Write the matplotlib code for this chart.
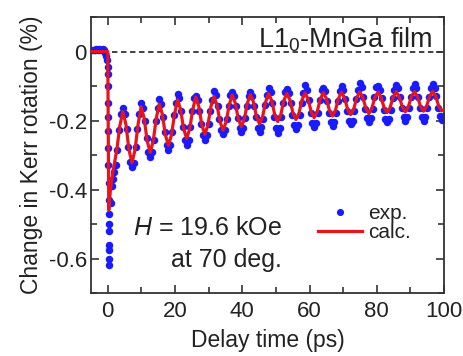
import matplotlib.pyplot as plt
import numpy as np
from matplotlib.ticker import MultipleLocator

plt.rcParams['font.family'] = ['Liberation Sans', 'DejaVu Sans']
plt.rcParams['mathtext.fontset'] = 'custom'
plt.rcParams['mathtext.rm'] = 'Liberation Sans'
plt.rcParams['mathtext.it'] = 'Liberation Sans:italic'

# experimental points before and around time zero
exp_t_start = [-4.6, -4.2, -3.8, -3.4, -3.0, -2.6, -2.2, -1.8, -1.4, -1.0, -0.7, -0.4, -0.2,
               0.00, 0.03, 0.06, 0.09, 0.12, 0.15, 0.18, 0.21, 0.24, 0.27, 0.30, 0.33,
               0.36, 0.39, 0.42, 0.45, 0.48, 0.9, 1.3, 1.7, 2.0]
exp_v_start = [0.005, 0.006, 0.004, 0.007, 0.005, 0.008, 0.006, 0.005, 0.007, 0.004, -0.005, -0.012, -0.025,
               -0.045, -0.065, -0.10, -0.15, -0.19, -0.23, -0.28, -0.33, -0.38, -0.43, -0.47, -0.50,
               -0.52, -0.56, -0.575, -0.60, -0.62, -0.44, -0.39, -0.37, -0.35]

# oscillating part, sampled every 0.542 ps from 2.332 ps (one row per period)
exp_t0 = 2.332
exp_dt = 0.542
exp_v_osc = [-0.330, -0.285, -0.228, -0.182,
             -0.165, -0.181, -0.224, -0.276, -0.319, -0.335, -0.322, -0.276, -0.224, -0.181,
             -0.148, -0.163, -0.202, -0.251, -0.290, -0.305, -0.290, -0.255, -0.202, -0.163,
             -0.138, -0.152, -0.189, -0.234, -0.271, -0.285, -0.271, -0.234, -0.185, -0.150,
             -0.122, -0.136, -0.173, -0.219, -0.256, -0.272, -0.256, -0.219, -0.173, -0.136,
             -0.128, -0.140, -0.172, -0.211, -0.243, -0.255, -0.243, -0.211, -0.172, -0.140,
             -0.113, -0.125, -0.157, -0.196, -0.228, -0.240, -0.228, -0.196, -0.157, -0.125,
             -0.118, -0.129, -0.157, -0.193, -0.221, -0.232, -0.221, -0.193, -0.157, -0.129,
             -0.116, -0.130, -0.159, -0.191, -0.222, -0.234, -0.220, -0.195, -0.155, -0.127,
             -0.105, -0.117, -0.150, -0.190, -0.223, -0.235, -0.223, -0.190, -0.150, -0.117,
             -0.108, -0.119, -0.148, -0.185, -0.214, -0.225, -0.214, -0.185, -0.148, -0.119,
             -0.098, -0.110, -0.140, -0.178, -0.208, -0.220, -0.208, -0.178, -0.140, -0.110,
             -0.105, -0.115, -0.143, -0.177, -0.205, -0.215, -0.205, -0.177, -0.143, -0.115,
             -0.100, -0.110, -0.138, -0.172, -0.200, -0.210, -0.200, -0.172, -0.138, -0.110,
             -0.092, -0.103, -0.131, -0.166, -0.194, -0.205, -0.194, -0.166, -0.131, -0.103,
             -0.100, -0.110, -0.136, -0.169, -0.195, -0.205, -0.195, -0.169, -0.136, -0.110,
             -0.097, -0.107, -0.133, -0.165, -0.190, -0.200, -0.190, -0.165, -0.133, -0.107,
             -0.095, -0.105, -0.131, -0.164, -0.190, -0.200, -0.190, -0.164, -0.131, -0.105,
             -0.095, -0.105, -0.130, -0.163, -0.188, -0.198, -0.188]

# calculated curve: drop at time zero, then six values per period from 2.694 ps
calc_t_start = [-5.0, 0.0, 0.3, 0.8, 1.5]
calc_v_start = [0.0, 0.0, -0.46, -0.40, -0.35]
calc_t0 = 2.694
calc_dt = 0.903
calc_v_osc = [-0.285, -0.215,
              -0.174, -0.211, -0.285, -0.322, -0.285, -0.211,
              -0.160, -0.193, -0.259, -0.292, -0.259, -0.193,
              -0.152, -0.182, -0.242, -0.272, -0.242, -0.182,
              -0.140, -0.168, -0.224, -0.252, -0.224, -0.168,
              -0.132, -0.159, -0.213, -0.240, -0.213, -0.159,
              -0.130, -0.155, -0.204, -0.228, -0.204, -0.155,
              -0.126, -0.149, -0.195, -0.218, -0.195, -0.149,
              -0.125, -0.146, -0.189, -0.210, -0.189, -0.146,
              -0.122, -0.142, -0.183, -0.203, -0.183, -0.142,
              -0.121, -0.140, -0.178, -0.197, -0.178, -0.140,
              -0.120, -0.138, -0.174, -0.192, -0.174, -0.138,
              -0.119, -0.136, -0.170, -0.187, -0.170, -0.136,
              -0.118, -0.134, -0.167, -0.183, -0.167, -0.134,
              -0.117, -0.133, -0.164, -0.180, -0.164, -0.133,
              -0.117, -0.132, -0.162, -0.177, -0.162, -0.132,
              -0.116, -0.131, -0.160, -0.175, -0.160, -0.131,
              -0.116, -0.130, -0.159, -0.173, -0.159, -0.130,
              -0.115, -0.129, -0.158, -0.172]
calc_t_end = [100.0]
calc_v_end = [-0.168]

exp_t = np.concatenate([exp_t_start, exp_t0 + exp_dt * np.arange(len(exp_v_osc))])
exp_v = np.concatenate([exp_v_start, exp_v_osc])
calc_t = np.concatenate([calc_t_start, calc_t0 + calc_dt * np.arange(len(calc_v_osc)), calc_t_end])
calc_v = np.concatenate([calc_v_start, calc_v_osc, calc_v_end])

fig = plt.figure(figsize=(4.64, 3.56), dpi=100)
ax = fig.add_axes([0.196, 0.177, 0.761, 0.775])

ax.axhline(0, xmin=0.06, color='#333333', ls=(0, (3, 2)), lw=1.3, zorder=1)
ax.plot(exp_t, exp_v, 'o', color='#1a1aff', ms=5.4, mec='none', zorder=2, label='exp.')
ax.plot(calc_t, calc_v, color='#e8141c', lw=2.3, zorder=3, label='calc.')

ax.set_xlim(-5, 100)
ax.set_ylim(-0.7, 0.1)
ax.xaxis.set_major_locator(MultipleLocator(20))
ax.xaxis.set_minor_locator(MultipleLocator(10))
ax.yaxis.set_minor_locator(MultipleLocator(0.1))
ax.set_yticks([0, -0.2, -0.4, -0.6])
ax.set_yticklabels(['0', '-0.2', '-0.4', '-0.6'])
ax.tick_params(which='both', direction='in', top=True, right=True, labelsize=16, width=1.2, colors='#333333')
ax.tick_params(which='major', length=6)
ax.tick_params(which='minor', length=4)
ax.tick_params(axis='x', pad=6)
ax.tick_params(axis='y', pad=3)
ax.tick_params(labelcolor='#222222')
for s in ax.spines.values():
    s.set_linewidth(1.3)
    s.set_color('#333333')

ax.set_xlabel('Delay time (ps)', fontsize=16.5, labelpad=5, color='#222222')
ax.set_ylabel('Change in Kerr rotation (%)', fontsize=16.5, labelpad=4, color='#222222')

ax.text(0.966, 0.891, 'L1$_0$-MnGa film', transform=ax.transAxes, ha='right', va='baseline', fontsize=19.5, color='#222222')
ax.text(0.541, 0.21, '$\\it{H}$ = 19.6 kOe', transform=ax.transAxes, ha='right', va='baseline', fontsize=18, color='#222222')
ax.text(0.541, 0.094, 'at 70 deg.', transform=ax.transAxes, ha='right', va='baseline', fontsize=18, color='#222222')

leg = ax.legend(loc='lower right', bbox_to_anchor=(0.905, 0.185), frameon=False, fontsize=15,
                handlelength=2.1, handletextpad=0.3, labelspacing=0.0, borderpad=0, borderaxespad=0,
                markerscale=0.95)
for t in leg.get_texts():
    t.set_color('#222222')

fig.savefig('out.png', dpi=100)
